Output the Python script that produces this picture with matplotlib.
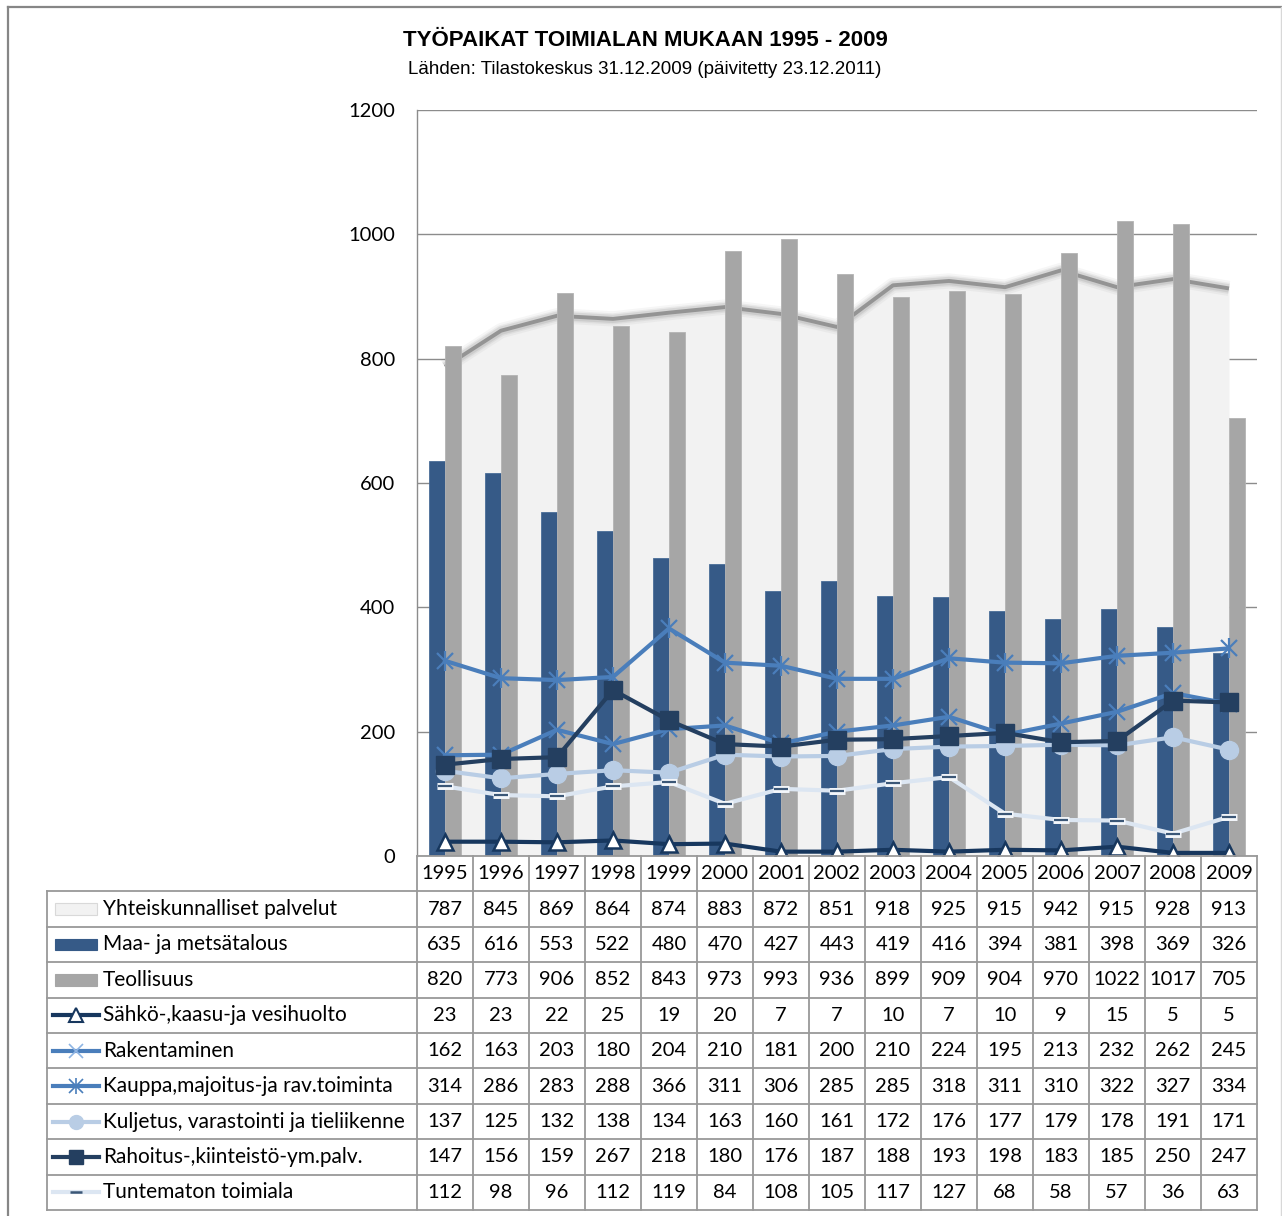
import numpy as np
import matplotlib.pyplot as plt
from matplotlib.lines import Line2D
from matplotlib.patches import Rectangle

# Tiedot (Tilastokeskus)
vuodet = ["1995", "1996", "1997", "1998", "1999", "2000", "2001", "2002",
          "2003", "2004", "2005", "2006", "2007", "2008", "2009"]
yhteiskunnalliset = [787, 845, 869, 864, 874, 883, 872, 851, 918, 925, 915, 942, 915, 928, 913]
maa_metsa = [635, 616, 553, 522, 480, 470, 427, 443, 419, 416, 394, 381, 398, 369, 326]
teollisuus = [820, 773, 906, 852, 843, 973, 993, 936, 899, 909, 904, 970, 1022, 1017, 705]
sahko = [23, 23, 22, 25, 19, 20, 7, 7, 10, 7, 10, 9, 15, 5, 5]
rakentaminen = [162, 163, 203, 180, 204, 210, 181, 200, 210, 224, 195, 213, 232, 262, 245]
kauppa = [314, 286, 283, 288, 366, 311, 306, 285, 285, 318, 311, 310, 322, 327, 334]
kuljetus = [137, 125, 132, 138, 134, 163, 160, 161, 172, 176, 177, 179, 178, 191, 171]
rahoitus = [147, 156, 159, 267, 218, 180, 176, 187, 188, 193, 198, 183, 185, 250, 247]
tuntematon = [112, 98, 96, 112, 119, 84, 108, 105, 117, 127, 68, 58, 57, 36, 63]

rivit = [
    "Yhteiskunnalliset palvelut",
    "Maa- ja metsätalous",
    "Teollisuus",
    "Sähkö-,kaasu-ja vesihuolto",
    "Rakentaminen",
    "Kauppa,majoitus-ja rav.toiminta",
    "Kuljetus, varastointi ja tieliikenne",
    "Rahoitus-,kiinteistö-ym.palv.",
    "Tuntematon toimiala",
]
sarjat = [yhteiskunnalliset, maa_metsa, teollisuus, sahko, rakentaminen,
          kauppa, kuljetus, rahoitus, tuntematon]

C_AREA = "#f2f2f2"
C_MAA = "#365a87"
C_TEOL = "#a6a6a6"
C_SAHKO = "#17375e"
C_BLUE = "#4a7ebb"
C_KULJ = "#b9cde5"
C_RAH = "#243f60"
C_TUNT = "#dce6f2"
C_GRID = "#8c8c8c"

plt.rcParams["font.family"] = ["Lato", "DejaVu Sans"]

W, H = 1282, 1216
fig = plt.figure(figsize=(W / 100, H / 100), dpi=100)

# kuvaajan reunus
fig.add_artist(Line2D([8 / W, 8 / W], [0, 1 - 7 / H], color="#868686", lw=1.6))
fig.add_artist(Line2D([8 / W, 1], [1 - 7 / H, 1 - 7 / H], color="#868686", lw=1.6))
fig.add_artist(Line2D([1280.5 / W, 1280.5 / W], [0, 1 - 7 / H], color="#d8d8d8", lw=1))

fig.text(645 / W, 1 - 41 / H, "TYÖPAIKAT TOIMIALAN MUKAAN 1995 - 2009",
         ha="center", va="center", fontsize=16, fontweight="bold",
         family=["Liberation Sans", "DejaVu Sans"])
fig.text(645 / W, 1 - 69 / H, "Lähden: Tilastokeskus 31.12.2009 (päivitetty 23.12.2011)",
         ha="center", va="center", fontsize=13.5,
         family=["Liberation Sans", "DejaVu Sans"])

# pääkuvaaja
ax = fig.add_axes([417 / W, (H - 856) / H, 840 / W, 746 / H])
x = np.arange(len(vuodet))
ax.set_xlim(-0.5, len(vuodet) - 0.5)
ax.set_ylim(0, 1200)
ax.set_yticks(range(0, 1201, 200))
ax.set_xticks([])
ax.tick_params(axis="y", length=0, pad=16, labelsize=14.5)
ax.yaxis.grid(True, color=C_GRID, lw=1)
ax.set_axisbelow(True)
for s in ["top", "right", "bottom"]:
    ax.spines[s].set_visible(False)
ax.spines["left"].set_color(C_GRID)
ax.spines["left"].set_linewidth(1)

# aluesarja + pehmeä varjo
ax.fill_between(x, yhteiskunnalliset, color=C_AREA, lw=0, zorder=1)
for lw, a in [(11, 0.05), (8, 0.08), (6, 0.12)]:
    ax.plot(x, yhteiskunnalliset, color="#555555", lw=lw, alpha=a,
            solid_capstyle="butt", zorder=1.1)
ax.plot(x, yhteiskunnalliset, color="#949494", lw=2.8, solid_capstyle="butt", zorder=1.2)

# pylväät
bw = 0.2857
ax.bar(x - bw / 2, maa_metsa, bw, color=C_MAA, edgecolor="#4a6d98", lw=0.6, zorder=2)
ax.bar(x + bw / 2, teollisuus, bw, color=C_TEOL, edgecolor="#b4b4b4", lw=0.6, zorder=2)

# viivat
ax.plot(x, sahko, color=C_SAHKO, lw=3, marker="^", ms=11, mfc="white",
        mec=C_SAHKO, mew=1.8, zorder=3)
ax.plot(x, rakentaminen, color=C_BLUE, lw=3, marker="x", ms=12, mec=C_BLUE,
        mew=1.6, zorder=3.1)
ax.plot(x, kauppa, color=C_BLUE, lw=3, marker="x", ms=12, mec=C_BLUE,
        mew=1.6, zorder=3.2)
ax.plot(x, kauppa, ls="none", marker="|", ms=14, mec=C_BLUE, mew=1.6, zorder=3.2)
ax.plot(x, kuljetus, color=C_KULJ, lw=3, marker="o", ms=13, mfc=C_KULJ,
        mec=C_KULJ, zorder=3.3)
ax.plot(x, rahoitus, color=C_RAH, lw=3, marker="s", ms=13.5, mfc=C_RAH,
        mec=C_RAH, zorder=3.4)
ax.plot(x, tuntematon, color=C_TUNT, lw=3, zorder=3.5)
ax.plot(x, tuntematon, ls="none", marker="_", ms=11, mec="#f4f7fb", mew=5, zorder=3.6)
ax.plot(x, tuntematon, ls="none", marker="_", ms=10, mec="#3b5777", mew=1.6, zorder=3.7)

# datataulukko
cw = 56.0
left_units = (417 - 47) / cw
tax = fig.add_axes([47 / W, (H - 1210) / H, 1210 / W, 354 / H])
tax.set_xlim(-0.5 - left_units, len(vuodet) - 0.5)
tax.set_ylim(len(rivit) + 1, 0)
tax.axis("off")
TC = "#999999"
x0 = -0.5 - left_units
x1 = len(vuodet) - 0.5
tax.plot([-0.5, x1], [0, 0], color=TC, lw=1.3, clip_on=False)
for r in range(1, len(rivit) + 2):
    tax.plot([x0, x1], [r, r], color=TC, lw=1.3, clip_on=False)
for i in range(len(vuodet) + 1):
    tax.plot([i - 0.5, i - 0.5], [0, len(rivit) + 1], color=TC, lw=1.3, clip_on=False)
tax.plot([x0, x0], [1, len(rivit) + 1], color=TC, lw=1.3, clip_on=False)

for i, v in enumerate(vuodet):
    tax.text(i, 0.5, v, ha="center", va="center", fontsize=14.5)
for r, (nimi, arvot) in enumerate(zip(rivit, sarjat)):
    yc = r + 1.5
    for i, val in enumerate(arvot):
        tax.text(i, yc, str(val), ha="center", va="center", fontsize=14.5)
    tax.text(-0.5 - (417 - 103) / cw, yc, nimi, ha="left", va="center", fontsize=15)

# selitteet taulukossa
kx0 = -0.5 - (417 - 53) / cw
kx1 = -0.5 - (417 - 99) / cw
kxm = (kx0 + kx1) / 2
kh = 0.32
for r, (fc, ec) in enumerate([(C_AREA, "#d9d9d9"), (C_MAA, C_MAA), (C_TEOL, C_TEOL)]):
    tax.add_patch(Rectangle((kx0 + 0.03, r + 1.5 - kh / 2), kx1 - kx0 - 0.06, kh,
                            facecolor=fc, edgecolor=ec, lw=0.8))

def avain(r, color, **kw):
    yc = r + 1.5
    tax.plot([kx0, kx1], [yc, yc], color=color, lw=3)
    tax.plot([kxm], [yc], ls="none", **kw)

avain(3, C_SAHKO, marker="^", ms=10, mfc="white", mec=C_SAHKO, mew=1.5)
avain(4, C_BLUE, marker="x", ms=10, mec="#8eb4e3", mew=1.2)
avain(5, C_BLUE, marker="x", ms=10, mec=C_BLUE, mew=1.2)
tax.plot([kxm], [6.5], ls="none", marker="|", ms=12, mec=C_BLUE, mew=1.2)
avain(6, C_KULJ, marker="o", ms=10, mfc=C_KULJ, mec=C_KULJ)
avain(7, C_RAH, marker="s", ms=10, mfc=C_RAH, mec=C_RAH)
avain(8, C_TUNT, marker="_", ms=9, mec="#3b5777", mew=1.8)

fig.savefig("out.png", dpi=100)
